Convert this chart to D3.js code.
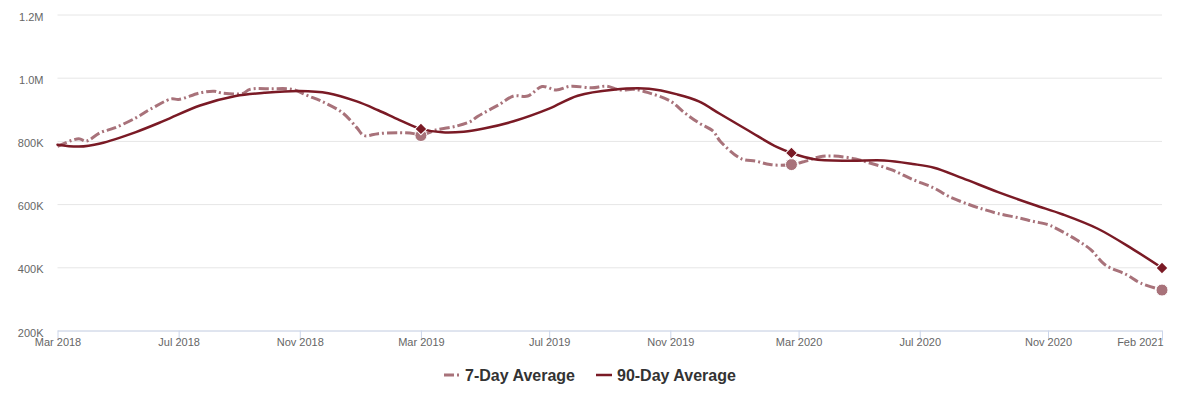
<!DOCTYPE html>
<html><head><meta charset="utf-8">
<script src="https://cdn.jsdelivr.net/npm/d3@7"></script>
<style>
body{margin:0;background:#fff;font-family:"Liberation Sans",Arial,sans-serif}
</style>
</head><body><svg id="c" width="1183" height="394"></svg>
<script>
// ---- data (x = week index from Mar 2018) ----
const tickWeeks  = [0, 17, 34, 51, 69, 86, 104, 121, 139, 155];
const tickLabels = ["Mar 2018","Jul 2018","Nov 2018","Mar 2019","Jul 2019","Nov 2019","Mar 2020","Jul 2020","Nov 2020","Feb 2021"];
const yTicks      = [200000, 400000, 600000, 800000, 1000000, 1200000];
const yTickLabels = ["200K","400K","600K","800K","1.0M","1.2M"];

const seriesNames = ["7-Day Average", "90-Day Average"];

const weeks7 = [0,3,4,6,8,11,13,16,17,20,22,23,26,27,30,33,35,37,40,42,43,45,48,50,51,53,56,58,59,62,64,66,68,70,72,75,77,79,81,83,86,88,90,92,93,96,98,100,103,105,107,109,112,114,117,120,123,125,128,130,132,135,137,139,140,143,145,147,150,152,155];
const avg7   = [783000,807000,799000,826000,841000,873000,900000,933000,931000,952000,957000,952000,950000,963000,965000,963000,944000,926000,889000,842000,817000,823000,826000,823000,817000,834000,847000,862000,878000,915000,942000,942000,972000,961000,973000,968000,973000,961000,963000,952000,926000,889000,857000,831000,799000,743000,736000,725000,725000,736000,750000,752000,743000,730000,709000,678000,651000,625000,598000,583000,570000,556000,545000,535000,525000,487000,456000,408000,377000,350000,328000];

const weeks90 = [0,3,6,11,15,20,25,29,34,38,42,45,48,51,54,57,60,64,69,73,78,83,87,90,93,97,101,103,106,111,116,120,123,127,132,137,141,146,151,155];
const avg90   = [788000,782000,792000,828000,864000,912000,942000,952000,958000,951000,925000,897000,866000,838000,827000,829000,840000,862000,902000,943000,962000,965000,947000,925000,885000,832000,780000,762000,743000,737000,738000,727000,715000,682000,638000,598000,568000,522000,456000,398000];

const markerWeeks = [51, 103, 155];

// ---- drawing ----
const svg = d3.select("#c");
const plotL = 57.5, plotR = 1162, plotT = 14.5, plotB = 330.5;

const x = d3.scaleLinear().domain([0, 155]).range([plotL, plotR]);
const y = d3.scaleLinear().domain([200000, 1200000]).range([plotB, plotT]);

const colDash = "#a8727a", colSolid = "#7a1a25";

// grid + y labels
const yAxis = d3.axisLeft(y).tickValues(yTicks)
  .tickFormat(d => yTickLabels[yTicks.indexOf(d)])
  .tickSize(-(plotR - plotL)).tickPadding(14);
const gy = svg.append("g").attr("transform", `translate(${plotL},0)`).call(yAxis);
gy.select(".domain").remove();
gy.selectAll(".tick line").attr("stroke", "#e6e6e6").attr("stroke-width", 1);
gy.selectAll(".tick text").attr("fill", "#666666").attr("font-size", "11px")
  .attr("font-family", '"Liberation Sans",Arial,sans-serif').attr("dy", "0.5em");

// x axis
const xAxis = d3.axisBottom(x).tickValues(tickWeeks)
  .tickFormat(d => tickLabels[tickWeeks.indexOf(d)])
  .tickSize(10).tickSizeOuter(0).tickPadding(2);
const gx = svg.append("g").attr("transform", `translate(0,${plotB})`).call(xAxis);
gx.select(".domain").attr("stroke", "#ccd6eb");
gx.selectAll(".tick line").attr("stroke", "#ccd6eb");
gx.selectAll(".tick text").attr("fill", "#666666").attr("font-size", "11px")
  .attr("font-family", '"Liberation Sans",Arial,sans-serif').attr("dy", "0.3em");
gx.selectAll(".tick text").filter((d,i) => i === tickWeeks.length - 1).attr("text-anchor", "end").attr("dx", "0.1em");

// lines
const data7  = weeks7.map((w,i) => ({w, v: avg7[i]}));
const data90 = weeks90.map((w,i) => ({w, v: avg90[i]}));
const line = d3.line().x(d => x(d.w)).y(d => y(d.v)).curve(d3.curveCatmullRom.alpha(0.5));

const dashArr = "10,3,2,3";
svg.append("path").datum(data7).attr("d", line).attr("fill", "none")
  .attr("stroke", colDash).attr("stroke-width", 3).attr("stroke-dasharray", dashArr);
svg.append("path").datum(data90).attr("d", line).attr("fill", "none")
  .attr("stroke", colSolid).attr("stroke-width", 2.5).attr("stroke-linejoin", "round").attr("stroke-linecap", "round");

// markers
const m7  = markerWeeks.map(w => ({w, v: avg7[weeks7.indexOf(w)]}));
const m90 = markerWeeks.map(w => ({w, v: avg90[weeks90.indexOf(w)]}));
svg.append("g").selectAll("circle").data(m7).join("circle")
  .attr("cx", d => x(d.w)).attr("cy", d => y(d.v)).attr("r", 6)
  .attr("fill", colDash).attr("stroke", "#fff").attr("stroke-width", 1);
const dia = d3.symbol().type(d3.symbolSquare).size(70);
svg.append("g").selectAll("path").data(m90).join("path")
  .attr("d", dia)
  .attr("transform", d => `translate(${x(d.w)},${y(d.v)}) rotate(45)`)
  .attr("fill", colSolid).attr("stroke", "#fff").attr("stroke-width", 1);

// legend
const lg = svg.append("g");
const items = [
  {name: seriesNames[0], color: colDash, dash: dashArr, w: 3},
  {name: seriesNames[1], color: colSolid, dash: null, w: 2.5}
];
let cx = 0;
const ly = 375;
items.forEach((it) => {
  const g = lg.append("g").attr("transform", `translate(${cx},0)`);
  g.append("line").attr("x1", 0).attr("x2", 16).attr("y1", ly).attr("y2", ly)
    .attr("stroke", it.color).attr("stroke-width", it.w)
    .attr("stroke-dasharray", it.dash);
  const t = g.append("text").attr("x", 21).attr("y", ly).attr("dy", "0.35em")
    .attr("font-size", "16px").attr("font-weight", "bold").attr("fill", "#333333")
    .attr("font-family", '"Liberation Sans",Arial,sans-serif')
    .text(it.name);
  cx += 21 + t.node().getComputedTextLength() + 21;
});
const totalW = cx - 21;
lg.attr("transform", `translate(${Math.round(590 - totalW/2)},0)`);
</script>
</body></html>
